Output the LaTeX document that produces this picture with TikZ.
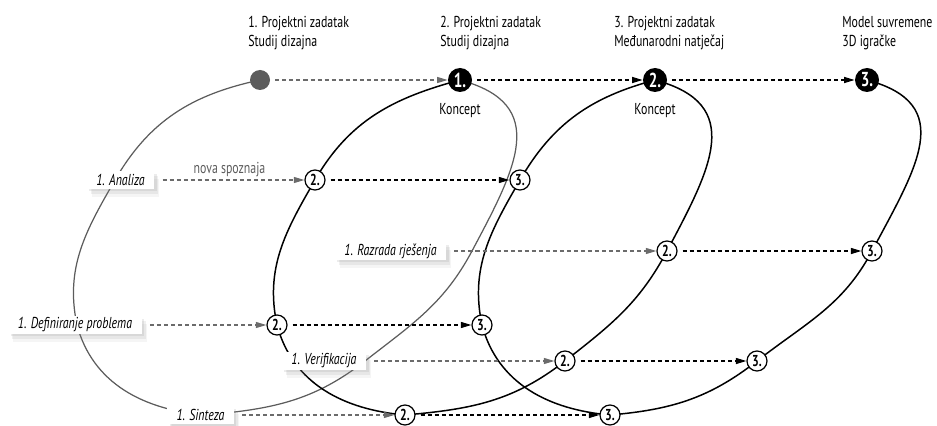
\documentclass[tikz,border=0pt]{standalone}
\usepackage{fontspec}
\setmainfont[FakeStretch=0.75]{PT Sans}
\usepackage{tikz}
\usetikzlibrary{arrows.meta,backgrounds,positioning,shadows}
\definecolor{loopgray}{gray}{0.36}
\definecolor{feedgray}{gray}{0.42}
\tikzstyle{head} = [anchor=west,align=left,inner sep=0pt]
\tikzstyle{knot} = [circle,fill=black,text=white,inner sep=0pt,minimum size=0.48cm,font=\fontsize{11.5}{11.5}\selectfont\bfseries]
\tikzstyle{phase} = [circle,draw,fill=white,line width=0.7pt,inner sep=0pt,minimum size=0.4cm,font=\fontsize{9}{10}\selectfont\bfseries]
\tikzstyle{seed} = [circle,fill=loopgray,inner sep=0pt,minimum size=0.4cm]
\tikzstyle{task} = [fill=white,inner xsep=0.19cm,inner ysep=0pt,minimum height=0.35cm,font=\fontsize{9}{10}\selectfont\itshape,
  drop shadow={opacity=0.15,shadow xshift=0.05cm,shadow yshift=-0.05cm},
  drop shadow={opacity=0.12,shadow xshift=0.08cm,shadow yshift=-0.1cm},
  drop shadow={opacity=0.08,shadow xshift=0.1cm,shadow yshift=-0.16cm}]
\tikzstyle{feed} = [feedgray,line width=0.7pt,dash pattern=on 2.3pt off 1.7pt,-{Triangle[length=6pt,width=3.4pt]}]
\tikzstyle{pass} = [black,line width=0.8pt,dash pattern=on 2.3pt off 1.7pt,-{Triangle[length=6pt,width=3.4pt]}]
\tikzstyle{spiral} = [line width=0.85pt]

\begin{document}
\begin{tikzpicture}[font=\fontsize{9}{10.5}\selectfont]
  \useasboundingbox (0,0) rectangle (18.74,-8.52);

  % column heads
  \node[head] (h1) at (4.96,-0.66) {1. Projektni zadatak\\Studij dizajna};
  \node[head] (h2) at (8.8,-0.66) {2. Projektni zadatak\\Studij dizajna};
  \node[head] (h3) at (12.28,-0.66) {3. Projektni zadatak\\Međunarodni natječaj};
  \node[head] (h4) at (16.84,-0.66) {Model suvremene\\3D igračke};

  % top row
  \node[seed] (t0) at (5.2,-1.6) {};
  \node[knot] (t1) at (9.2,-1.6) {1.};
  \node[knot] (t2) at (13.1,-1.6) {2.};
  \node[knot] (t3) at (17.34,-1.6) {3.};
  \node[below=0.22cm of t1,inner sep=0pt] (k1) {Koncept};
  \node[below=0.22cm of t2,inner sep=0pt] (k2) {Koncept};

  % first turn has no stops of its own
  \coordinate (a1) at (2.3,-3.6);
  \coordinate (d1) at (1.54,-6.5);
  \coordinate (s1) at (4.1,-8.3);
  \coordinate (v1) at (7.3,-7.22);
  \coordinate (r1) at (9.44,-5.02);

  \node[task] (analiza) at (2.41,-3.6) {1. Analiza};
  \node[task] (razrada) at (7.81,-5.02) {1. Razrada rješenja};
  \node[task] (definiranje) at (1.5,-6.5) {1. Definiranje problema};
  \node[task] (verifikacija) at (6.48,-7.22) {1. Verifikacija};
  \node[task] (sinteza) at (4.01,-8.3) {1. Sinteza};

  % second turn
  \node[phase] (a2) at (6.3,-3.6) {2.};
  \node[phase] (r2) at (13.34,-5.02) {2.};
  \node[phase] (d2) at (5.54,-6.5) {2.};
  \node[phase] (v2) at (11.3,-7.22) {2.};
  \node[phase] (s2) at (8.1,-8.3) {2.};

  % third turn
  \node[phase] (a3) at (10.4,-3.6) {3.};
  \node[phase] (r3) at (17.44,-5.02) {3.};
  \node[phase] (d3) at (9.64,-6.5) {3.};
  \node[phase] (v3) at (15.14,-7.22) {3.};
  \node[phase] (s3) at (12.2,-8.3) {3.};

  \begin{scope}[on background layer]
    \draw[loopgray,line width=0.7pt] (t0.center) to[out=192,in=60] (a1) to[out=240,in=102] (d1)
      to[out=285,in=175] (s1) to[out=5,in=218] (v1) to[out=38,in=242] (r1)
      to[out=62,in=-15,looseness=1.4] (t1.center);
    \draw[spiral] (t1.center) to[out=195,in=60] (a2.center) to[out=240,in=102] (d2.center)
      to[out=285,in=175] (s2.center) to[out=5,in=218] (v2.center) to[out=38,in=242] (r2.center)
      to[out=62,in=-15,looseness=1.4] (t2.center);
    \draw[spiral] (t2.center) to[out=195,in=60] (a3.center) to[out=240,in=102] (d3.center)
      to[out=285,in=175] (s3.center) to[out=5,in=218] (v3.center) to[out=38,in=242] (r3.center)
      to[out=62,in=-15,looseness=1.4] (t3.center);
  \end{scope}

  \draw[feed,shorten <=0.1cm] (t0) -- (t1);
  \draw[pass,shorten <=0.1cm] (t1) -- (t2);
  \draw[pass,shorten <=0.1cm] (t2) -- (t3);

  \draw[feed,shorten <=0.16cm] (analiza) -- node[above,inner sep=1.5pt,text=loopgray] {nova spoznaja} (a2);
  \draw[feed,shorten <=0.16cm] (razrada) -- (r2);
  \draw[feed,shorten <=0.16cm] (definiranje) -- (d2);
  \draw[feed,shorten <=0.16cm] (verifikacija) -- (v2);
  \draw[feed,shorten <=0.16cm] (sinteza) -- (s2);

  \draw[pass,shorten <=0.1cm] (a2) -- (a3);
  \draw[pass,shorten <=0.1cm] (r2) -- (r3);
  \draw[pass,shorten <=0.1cm] (d2) -- (d3);
  \draw[pass,shorten <=0.1cm] (v2) -- (v3);
  \draw[pass,shorten <=0.1cm] (s2) -- (s3);
\end{tikzpicture}
\end{document}
